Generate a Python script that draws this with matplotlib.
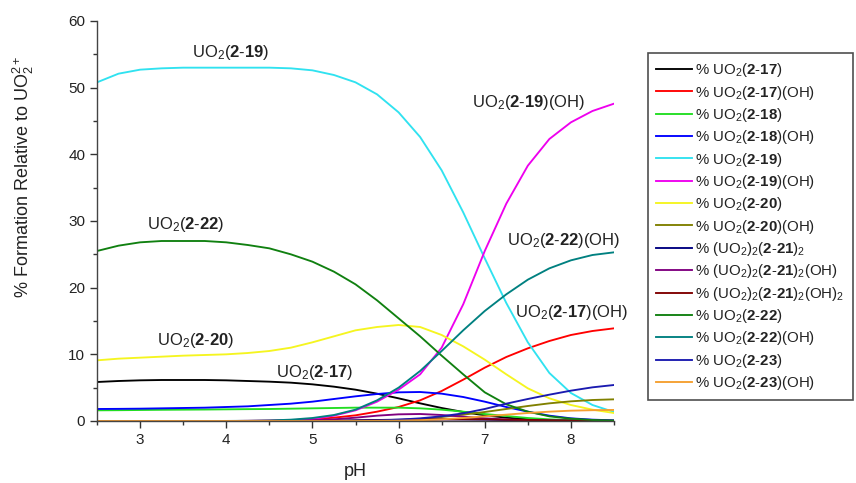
import matplotlib
matplotlib.use("Agg")
import matplotlib.pyplot as plt
from matplotlib.ticker import MultipleLocator

plt.rcParams['font.family'] = ['Liberation Sans', 'DejaVu Sans']
plt.rcParams['mathtext.fontset'] = 'custom'
plt.rcParams['mathtext.rm'] = 'Liberation Sans'
plt.rcParams['mathtext.bf'] = 'Liberation Sans:bold'
plt.rcParams['mathtext.it'] = 'Liberation Sans:italic'
plt.rcParams['mathtext.default'] = 'regular'

pH = [2.5, 2.75, 3.0, 3.25, 3.5, 3.75, 4.0, 4.25, 4.5, 4.75, 5.0, 5.25, 5.5,
      5.75, 6.0, 6.25, 6.5, 6.75, 7.0, 7.25, 7.5, 7.75, 8.0, 8.25, 8.5]

s_2_17 = [5.85, 6.0, 6.1, 6.15, 6.15, 6.15, 6.1, 6.0, 5.9, 5.75, 5.5, 5.15, 4.7,
          4.1, 3.4, 2.65, 1.95, 1.35, 0.85, 0.5, 0.27, 0.13, 0.06, 0.03, 0.01]
s_2_17_OH = [0, 0, 0, 0, 0, 0, 0, 0.02, 0.05, 0.12, 0.25, 0.5, 0.85,
             1.4, 2.1, 3.1, 4.5, 6.2, 8.0, 9.6, 10.9, 12.0, 12.9, 13.5, 13.9]
s_2_18 = [1.6, 1.62, 1.65, 1.68, 1.7, 1.72, 1.75, 1.78, 1.8, 1.85, 1.9, 1.95, 2.0,
          2.0, 2.0, 1.9, 1.7, 1.4, 1.05, 0.75, 0.45, 0.25, 0.12, 0.06, 0.03]
s_2_18_OH = [1.8, 1.82, 1.85, 1.9, 1.95, 2.0, 2.1, 2.2, 2.4, 2.6, 2.9, 3.3, 3.7,
             4.05, 4.3, 4.35, 4.1, 3.6, 2.9, 2.1, 1.4, 0.8, 0.4, 0.2, 0.1]
s_2_19 = [50.8, 52.1, 52.7, 52.9, 53.0, 53.0, 53.0, 53.0, 53.0, 52.9, 52.6, 51.9, 50.8,
          49.0, 46.3, 42.6, 37.6, 31.3, 24.4, 17.7, 11.8, 7.2, 4.2, 2.4, 1.35]
s_2_19_OH = [0, 0, 0, 0, 0, 0, 0, 0.02, 0.05, 0.12, 0.3, 0.8, 1.6,
             2.9, 4.7, 7.0, 11.0, 17.5, 25.5, 32.6, 38.3, 42.3, 44.8, 46.5, 47.6]
s_2_20 = [9.1, 9.35, 9.5, 9.65, 9.8, 9.9, 10.0, 10.2, 10.5, 11.0, 11.8, 12.7, 13.6,
          14.1, 14.4, 14.1, 12.9, 11.2, 9.2, 7.0, 4.9, 3.4, 2.4, 1.7, 1.2]
s_2_20_OH = [0, 0, 0, 0, 0, 0, 0, 0, 0, 0, 0, 0, 0.02,
             0.05, 0.12, 0.3, 0.6, 0.95, 1.35, 1.8, 2.25, 2.65, 2.95, 3.15, 3.25]
s_2_21_2 = [0, 0, 0, 0, 0, 0, 0, 0, 0, 0.01, 0.02, 0.05, 0.1,
            0.15, 0.2, 0.23, 0.25, 0.23, 0.2, 0.15, 0.1, 0.07, 0.04, 0.03, 0.02]
s_2_21_2_OH = [0, 0, 0, 0, 0, 0, 0, 0, 0.02, 0.05, 0.1, 0.25, 0.5,
               0.8, 1.0, 1.05, 0.9, 0.65, 0.4, 0.22, 0.12, 0.06, 0.03, 0.01, 0.0]
s_2_21_2_OH2 = [0, 0, 0, 0, 0, 0, 0, 0, 0, 0, 0, 0.02, 0.05,
                0.1, 0.15, 0.2, 0.25, 0.26, 0.25, 0.2, 0.15, 0.1, 0.07, 0.05, 0.03]
s_2_22 = [25.5, 26.3, 26.8, 27.0, 27.0, 27.0, 26.8, 26.4, 25.9, 25.0, 23.9, 22.4, 20.5,
          18.1, 15.4, 12.7, 9.8, 7.0, 4.3, 2.5, 1.4, 0.7, 0.35, 0.15, 0.06]
s_2_22_OH = [0, 0, 0, 0, 0, 0, 0.01, 0.03, 0.08, 0.2, 0.45, 0.9, 1.7,
             3.1, 5.0, 7.5, 10.5, 13.6, 16.5, 19.0, 21.2, 22.9, 24.1, 24.9, 25.3]
s_2_23 = [0, 0, 0, 0, 0, 0, 0, 0, 0, 0, 0, 0.01, 0.03,
          0.08, 0.2, 0.4, 0.7, 1.15, 1.8, 2.6, 3.3, 3.95, 4.55, 5.05, 5.4]
s_2_23_OH = [0, 0, 0, 0, 0, 0, 0, 0, 0, 0, 0, 0, 0,
             0.02, 0.05, 0.12, 0.25, 0.45, 0.7, 0.95, 1.2, 1.4, 1.55, 1.62, 1.66]

def b(s):
    a, c = s.split('-')
    return r'$\mathbf{%s}$-$\mathbf{%s}$' % (a, c)

labels = [
    '% UO$_2$(' + b('2-17') + ')',
    '% UO$_2$(' + b('2-17') + ')(OH)',
    '% UO$_2$(' + b('2-18') + ')',
    '% UO$_2$(' + b('2-18') + ')(OH)',
    '% UO$_2$(' + b('2-19') + ')',
    '% UO$_2$(' + b('2-19') + ')(OH)',
    '% UO$_2$(' + b('2-20') + ')',
    '% UO$_2$(' + b('2-20') + ')(OH)',
    '% (UO$_2$)$_2$(' + b('2-21') + ')$_2$',
    '% (UO$_2$)$_2$(' + b('2-21') + ')$_2$(OH)',
    '% (UO$_2$)$_2$(' + b('2-21') + ')$_2$(OH)$_2$',
    '% UO$_2$(' + b('2-22') + ')',
    '% UO$_2$(' + b('2-22') + ')(OH)',
    '% UO$_2$(' + b('2-23') + ')',
    '% UO$_2$(' + b('2-23') + ')(OH)',
]
series = [s_2_17, s_2_17_OH, s_2_18, s_2_18_OH, s_2_19, s_2_19_OH, s_2_20, s_2_20_OH,
          s_2_21_2, s_2_21_2_OH, s_2_21_2_OH2, s_2_22, s_2_22_OH, s_2_23, s_2_23_OH]
colors = ['#000000', '#ff0000', '#22dd22', '#0000ff', '#30e2f0', '#ee00ee', '#f5f520',
          '#808000', '#000080', '#800080', '#800000', '#108010', '#008080', '#1a1ab0', '#f5a030']

fig = plt.figure(figsize=(8.56, 4.83), dpi=100)
ax = fig.add_axes([97/856, 1-421/483, (614-97)/856, 400/483])

lines = []
for s, lab, c in zip(series, labels, colors):
    ln, = ax.plot(pH, s, color=c, lw=1.35, label=lab)
    lines.append(ln)

ax.set_xlim(2.5, 8.5)
ax.set_ylim(0, 60)
ax.xaxis.set_major_locator(MultipleLocator(1))
ax.xaxis.set_minor_locator(MultipleLocator(0.5))
ax.yaxis.set_major_locator(MultipleLocator(10))
ax.yaxis.set_minor_locator(MultipleLocator(5))
ax.tick_params(which='both', direction='out', colors='#333333', labelcolor='#222222', labelsize=11)
ax.tick_params(which='major', length=5, width=1)
ax.tick_params(which='minor', length=3, width=1)
for sp in ['top', 'right']:
    ax.spines[sp].set_visible(False)
for sp in ['left', 'bottom']:
    ax.spines[sp].set_color('#444444')
    ax.spines[sp].set_linewidth(1)

ax.set_xlabel('pH', fontsize=13, color='#222222', labelpad=12)
ax.set_ylabel('% Formation Relative to UO$_2^{2+}$', fontsize=13, color='#222222')
ax.yaxis.set_label_coords(-0.118, 0.61)

ann_kw = dict(fontsize=12, ha='center', va='center', color='#222222')
ax.text(4.05, 55.2, 'UO$_2$(' + b('2-19') + ')', **ann_kw)
ax.text(3.53, 29.4, 'UO$_2$(' + b('2-22') + ')', **ann_kw)
ax.text(3.64, 12.0, 'UO$_2$(' + b('2-20') + ')', **ann_kw)
ax.text(5.03, 7.3, 'UO$_2$(' + b('2-17') + ')', **ann_kw)
ax.text(7.51, 47.7, 'UO$_2$(' + b('2-19') + ')(OH)', **ann_kw)
ax.text(7.92, 27.1, 'UO$_2$(' + b('2-22') + ')(OH)', **ann_kw)
ax.text(8.01, 16.2, 'UO$_2$(' + b('2-17') + ')(OH)', **ann_kw)

leg = fig.legend(handles=lines, loc='upper left', bbox_to_anchor=(648/856, 1-53/483),
                 frameon=True, fancybox=False, fontsize=10.8, handlelength=2.35,
                 handletextpad=0.25, labelspacing=0.29, borderpad=0.55, borderaxespad=0)
leg.get_frame().set_edgecolor('#222222')
leg.get_frame().set_linewidth(1.2)
for t in leg.get_texts():
    t.set_color('#222222')

fig.savefig('out.png', dpi=100)
